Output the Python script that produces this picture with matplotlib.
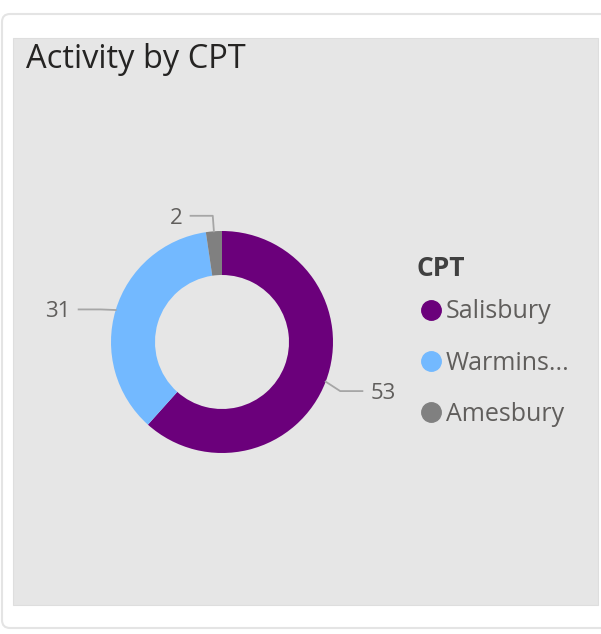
import numpy as np
import matplotlib
matplotlib.use("Agg")
import matplotlib.pyplot as plt
from matplotlib.patches import FancyBboxPatch, Rectangle
from matplotlib.lines import Line2D

plt.rcParams['font.family'] = ['Open Sans', 'DejaVu Sans']

# data
cpt_names = ['Salisbury', 'Warmins...', 'Amesbury']
activity = [53, 31, 2]
colors = ['#6B007B', '#73B9FF', '#808080']

W, H = 601, 634
fig = plt.figure(figsize=(W / 100, H / 100), dpi=100)
fig.patch.set_facecolor('white')

# background card + grey panel (pixel layout)
bg = fig.add_axes([0, 0, 1, 1])
bg.set_xlim(0, W)
bg.set_ylim(H, 0)
bg.axis('off')
bg.add_patch(FancyBboxPatch((2, 14), W + 10, 614, boxstyle='round,pad=0,rounding_size=8',
                            facecolor='white', edgecolor='#e4e4e4', linewidth=1.5))
bg.add_patch(Rectangle((13, 38), 585, 567, facecolor='#e6e6e6', edgecolor='#dedede', linewidth=0.8))
bg.text(26, 60, 'Activity by CPT', fontsize=23.5, color='#252423', va='center', ha='left')

# donut
cx, cy, R, r_in = 222, 342, 111, 67
ax = fig.add_axes([(cx - R) / W, 1 - (cy + R) / H, 2 * R / W, 2 * R / H])
wedges, _ = ax.pie(activity, colors=colors, startangle=90, counterclock=False, radius=1,
                   wedgeprops=dict(width=(R - r_in) / R, linewidth=0))
ax.set_xlim(-1, 1)
ax.set_ylim(-1, 1)
ax.axis('off')

# data labels with leader lines
for w, v in zip(wedges, activity):
    ang = np.deg2rad((w.theta1 + w.theta2) / 2)
    x0, y0 = np.cos(ang) * 1.0, np.sin(ang) * 1.0
    x1, y1 = np.cos(ang) * 1.14, np.sin(ang) * 1.14
    if abs(np.cos(ang)) > 0.5:
        y1 -= 0.035
    side = 1 if x1 >= 0 else -1
    x2 = x1 + side * 0.2
    ax.plot([x0, x1, x2], [y0, y1, y1], color='#a6a6a6', lw=1.3, clip_on=False)
    ax.text(x2 + side * 0.07, y1 - 0.02, str(v), fontsize=16, color='#605E5C',
            ha='left' if side > 0 else 'right', va='center', clip_on=False)

# legend
bg.text(417, 268, 'CPT', fontsize=19, fontweight='bold', color='#404040', va='center', ha='left')
handles = [Line2D([], [], marker='o', linestyle='none', markersize=14,
                  markerfacecolor=c, markeredgecolor=c) for c in colors]
leg = fig.legend(handles, cpt_names, loc='upper left',
                 bbox_to_anchor=(402 / W, 1 - 277 / H), frameon=False,
                 fontsize=18, handlelength=0.55, handletextpad=0.3,
                 labelspacing=1.05, labelcolor='#605E5C')

fig.savefig('out.png', dpi=100, facecolor='white')
